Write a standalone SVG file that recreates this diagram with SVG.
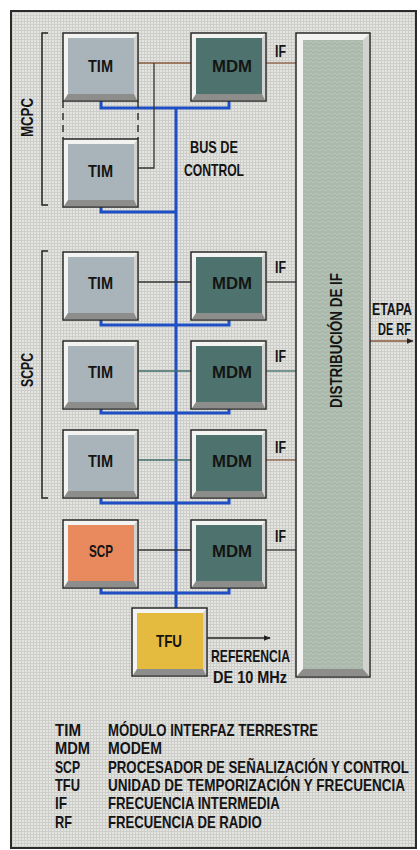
<svg xmlns="http://www.w3.org/2000/svg" xmlns:xlink="http://www.w3.org/1999/xlink" width="420" height="850" viewBox="0 0 420 850">
<style>
.t{font-family:"Liberation Sans",Arial,sans-serif;font-weight:bold;fill:#141414}
.bl{font-size:17px}
.lg{font-size:16.5px}
.bus{fill:none;stroke:#1f4fc4;stroke-width:3}
.cn{fill:none;stroke:#333;stroke-width:1.3}
.br{fill:none;stroke:#8a5a3e;stroke-width:1.3}
.tl{fill:none;stroke:#3f6e6a;stroke-width:1.3}
.brk{fill:none;stroke:#222;stroke-width:1.5}
.tim{fill:#a9b3ba}
.mdm{fill:#4e736f}
.scp{fill:#e88a5e}
.tfu{fill:#e5bb3f}
</style>
<defs>
<pattern id="grid" width="3" height="3" patternUnits="userSpaceOnUse">
<rect width="3" height="3" fill="#e4e4e1"/>
<path d="M0 0.5H3M0.5 0V3" stroke="#cdcdca" stroke-width="1"/>
</pattern>
<pattern id="hatch" width="6" height="4" patternUnits="userSpaceOnUse">
<path d="M0 3L6 1" stroke="#ffffff" stroke-opacity="0.18" stroke-width="1"/>
</pattern>
<g id="frame">
<rect x="0" y="0" width="75" height="68" fill="#f3f3f1" stroke="#2a2a2a" stroke-width="1.5"/>
<polygon points="74,1 74,67 71,61 71,5" fill="#d2d2d0"/>
<polygon points="1,67 74,67 71,61 5,61" fill="#8d8d8b"/>
</g>
<marker id="ah" viewBox="0 0 10 10" refX="9" refY="5" markerWidth="7" markerHeight="7" orient="auto" markerUnits="userSpaceOnUse">
<path d="M0 1L10 5L0 9Z" fill="#222"/>
</marker>
</defs>
<rect x="0" y="0" width="420" height="850" fill="#fff"/>
<rect x="11" y="11" width="405" height="837" fill="url(#grid)" stroke="#2a2a2a" stroke-width="2"/>

<g id="connectors">
<path class="bus" d="M176 108V608"/>
<path class="bus" d="M101 101V108H229V101"/>
<path class="bus" d="M101 207V212H176"/>
<path class="bus" d="M101 320V325H229V320"/>
<path class="bus" d="M101 409V413H229V409"/>
<path class="bus" d="M101 498V503H229V498"/>
<path class="bus" d="M101 588V593H229V588"/>
<path class="br" d="M138 63H191"/>
<path class="cn" d="M154 63V168H138"/>
<path class="cn" d="M138 282H191"/>
<path class="tl" d="M138 371H191"/>
<path class="tl" d="M138 460H191"/>
<path class="cn" d="M138 550H191"/>
<path class="br" d="M266 63H296"/>
<path class="cn" d="M266 282H296"/>
<path class="tl" d="M266 371H296"/>
<path class="br" d="M266 460H296"/>
<path class="cn" d="M266 550H296"/>
<path d="M63 101V139M138 101V139" stroke="#333" stroke-width="1.5" stroke-dasharray="7,5" fill="none"/>
<path d="M207 638H270" stroke="#222" stroke-width="1.5" marker-end="url(#ah)"/>
<path d="M370 341H413" stroke="#8a5a3e" stroke-width="1.5" marker-end="url(#ah)"/>
<path class="brk" d="M48 33H42V205H48"/>
<path class="brk" d="M48 251H42V498H48"/>
</g>

<g id="dist">
<rect x="296" y="33" width="74" height="644" fill="#f3f3f1" stroke="#2a2a2a" stroke-width="1.5"/>
<polygon points="369,34 369,676 363,669 363,40" fill="#d2d2d0"/>
<polygon points="297,676 369,676 363,669 303,669" fill="#8d8d8b"/>
<rect x="303" y="40" width="60" height="629" fill="#aab9ab"/>
<rect x="303" y="40" width="60" height="629" fill="url(#hatch)"/>
<text class="t" font-size="17" textLength="135" lengthAdjust="spacingAndGlyphs" transform="translate(342,408) rotate(-90)">DISTRIBUCIÓN DE IF</text>
</g>

<g id="tim1"><use xlink:href="#frame" x="63" y="33"/><rect class="tim" x="68" y="38" width="66" height="56"/><text class="t bl" x="88" y="72" textLength="25" lengthAdjust="spacingAndGlyphs">TIM</text></g>
<g id="mdm1"><use xlink:href="#frame" x="191" y="33"/><rect class="mdm" x="196" y="38" width="66" height="56"/><text class="t bl" x="212" y="72" textLength="40" lengthAdjust="spacingAndGlyphs">MDM</text></g>
<g id="tim2"><use xlink:href="#frame" x="63" y="139"/><rect class="tim" x="68" y="144" width="66" height="56"/><text class="t bl" x="88" y="177" textLength="25" lengthAdjust="spacingAndGlyphs">TIM</text></g>

<g id="tim3"><use xlink:href="#frame" x="63" y="252"/><rect class="tim" x="68" y="257" width="66" height="56"/><text class="t bl" x="88" y="289" textLength="25" lengthAdjust="spacingAndGlyphs">TIM</text></g>
<g id="mdm3"><use xlink:href="#frame" x="191" y="252"/><rect class="mdm" x="196" y="257" width="66" height="56"/><text class="t bl" x="212" y="289" textLength="40" lengthAdjust="spacingAndGlyphs">MDM</text></g>

<g id="tim4"><use xlink:href="#frame" x="63" y="341"/><rect class="tim" x="68" y="346" width="66" height="56"/><text class="t bl" x="88" y="378" textLength="25" lengthAdjust="spacingAndGlyphs">TIM</text></g>
<g id="mdm4"><use xlink:href="#frame" x="191" y="341"/><rect class="mdm" x="196" y="346" width="66" height="56"/><text class="t bl" x="212" y="378" textLength="40" lengthAdjust="spacingAndGlyphs">MDM</text></g>

<g id="tim5"><use xlink:href="#frame" x="63" y="430"/><rect class="tim" x="68" y="435" width="66" height="56"/><text class="t bl" x="88" y="467" textLength="25" lengthAdjust="spacingAndGlyphs">TIM</text></g>
<g id="mdm5"><use xlink:href="#frame" x="191" y="430"/><rect class="mdm" x="196" y="435" width="66" height="56"/><text class="t bl" x="212" y="467" textLength="40" lengthAdjust="spacingAndGlyphs">MDM</text></g>

<g id="scp"><use xlink:href="#frame" x="63" y="520"/><rect class="scp" x="68" y="525" width="66" height="56"/><text class="t bl" x="89" y="557" textLength="24" lengthAdjust="spacingAndGlyphs">SCP</text></g>
<g id="mdm6"><use xlink:href="#frame" x="191" y="520"/><rect class="mdm" x="196" y="525" width="66" height="56"/><text class="t bl" x="212" y="557" textLength="40" lengthAdjust="spacingAndGlyphs">MDM</text></g>

<g id="tfu"><use xlink:href="#frame" x="132" y="608"/><rect class="tfu" x="137" y="613" width="66" height="56"/><text class="t bl" x="156" y="647" textLength="26" lengthAdjust="spacingAndGlyphs">TFU</text></g>

<g id="labels">
<text class="t" font-size="16.5" textLength="39" lengthAdjust="spacingAndGlyphs" transform="translate(33,137) rotate(-90)">MCPC</text>
<text class="t" font-size="16.5" textLength="34" lengthAdjust="spacingAndGlyphs" transform="translate(33,387) rotate(-90)">SCPC</text>
<text class="t" font-size="17" x="190" y="153" textLength="48" lengthAdjust="spacingAndGlyphs">BUS DE</text>
<text class="t" font-size="17" x="184" y="176" textLength="60" lengthAdjust="spacingAndGlyphs">CONTROL</text>
<text class="t" font-size="16" x="275" y="57" textLength="11" lengthAdjust="spacingAndGlyphs">IF</text>
<text class="t" font-size="16" x="275" y="273" textLength="11" lengthAdjust="spacingAndGlyphs">IF</text>
<text class="t" font-size="16" x="275" y="362" textLength="11" lengthAdjust="spacingAndGlyphs">IF</text>
<text class="t" font-size="16" x="275" y="453" textLength="11" lengthAdjust="spacingAndGlyphs">IF</text>
<text class="t" font-size="16" x="275" y="542" textLength="11" lengthAdjust="spacingAndGlyphs">IF</text>
<text class="t" font-size="17" transform="translate(372,315) scale(0.76,1)" textLength="52.6" lengthAdjust="spacingAndGlyphs">ETAPA</text>
<text class="t" font-size="17" transform="translate(378,335) scale(0.76,1)" textLength="43.4" lengthAdjust="spacingAndGlyphs">DE RF</text>
<text class="t" font-size="17" x="211" y="662" textLength="79" lengthAdjust="spacingAndGlyphs">REFERENCIA</text>
<text class="t" font-size="17" x="213" y="683" textLength="74" lengthAdjust="spacingAndGlyphs">DE 10 MHz</text>
</g>

<g id="legend">
<text class="t lg" x="55" y="736" textLength="26" lengthAdjust="spacingAndGlyphs">TIM</text>
<text class="t lg" transform="translate(108,736) scale(0.75,1)" textLength="280" lengthAdjust="spacingAndGlyphs">MÓDULO INTERFAZ TERRESTRE</text>
<text class="t lg" x="55" y="754" textLength="35" lengthAdjust="spacingAndGlyphs">MDM</text>
<text class="t lg" x="108" y="754" textLength="54" lengthAdjust="spacingAndGlyphs">MODEM</text>
<text class="t lg" x="55" y="773" textLength="25" lengthAdjust="spacingAndGlyphs">SCP</text>
<text class="t lg" transform="translate(108,773) scale(0.75,1)" textLength="401" lengthAdjust="spacingAndGlyphs">PROCESADOR DE SEÑALIZACIÓN Y CONTROL</text>
<text class="t lg" x="55" y="791" textLength="25" lengthAdjust="spacingAndGlyphs">TFU</text>
<text class="t lg" transform="translate(108,791) scale(0.75,1)" textLength="396" lengthAdjust="spacingAndGlyphs">UNIDAD DE TEMPORIZACIÓN Y FRECUENCIA</text>
<text class="t lg" x="55" y="809" textLength="12" lengthAdjust="spacingAndGlyphs">IF</text>
<text class="t lg" transform="translate(108,809) scale(0.75,1)" textLength="229" lengthAdjust="spacingAndGlyphs">FRECUENCIA INTERMEDIA</text>
<text class="t lg" x="55" y="828" textLength="17" lengthAdjust="spacingAndGlyphs">RF</text>
<text class="t lg" transform="translate(108,828) scale(0.75,1)" textLength="205" lengthAdjust="spacingAndGlyphs">FRECUENCIA DE RADIO</text>
</g>
</svg>
